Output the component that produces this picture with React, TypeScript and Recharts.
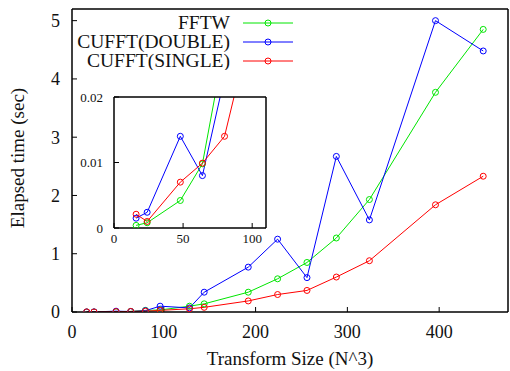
import { Label, Legend, Line, LineChart, XAxis, YAxis } from "recharts"

// transform sizes (N) and elapsed times in seconds
const sizes = [16, 24, 48, 64, 80, 96, 128, 144, 192, 224, 256, 288, 324, 396, 448]
const fftw = [0.0004, 0.0008, 0.0042, 0.0098, 0.028, 0.035, 0.1, 0.14, 0.34, 0.57, 0.85, 1.27, 1.93, 3.77, 4.85]
const cufftDouble = [0.0015, 0.0024, 0.014, 0.008, 0.023, 0.1, 0.07, 0.34, 0.77, 1.25, 0.59, 2.67, 1.58, 5.0, 4.48]
const cufftSingle = [0.0021, 0.001, 0.007, 0.0099, 0.014, 0.028, 0.055, 0.08, 0.19, 0.3, 0.37, 0.6, 0.88, 1.84, 2.33]

const mainXTicks = [0, 100, 200, 300, 400]
const mainYTicks = [0, 1, 2, 3, 4, 5]
const insetXTicks = [0, 50, 100]
const insetYTicks = [0, 0.01, 0.02]

const data = sizes.map((n, i) => ({
  n,
  fftw: fftw[i],
  double: cufftDouble[i],
  single: cufftSingle[i],
}))

const series = [
  { key: "fftw", name: "FFTW", color: "#00e600" },
  { key: "double", name: "CUFFT(DOUBLE)", color: "#0000ff" },
  { key: "single", name: "CUFFT(SINGLE)", color: "#ff0000" },
]

const FONT = "Liberation Serif"
const frame = { stroke: "#000", strokeWidth: 1.5 }
const tickLine = { stroke: "#000", strokeWidth: 1 }
const mainTick = { fill: "#111", fontSize: 18, fontFamily: FONT }
const insetTick = { fill: "#111", fontSize: 13, fontFamily: FONT }

function LegendBox() {
  return (
    <svg width={250} height={60}>
      {series.map((s, i) => {
        const cy = 13 + i * 19
        return (
          <g key={s.key}>
            <text x={170} y={cy + 6} textAnchor="end" fontFamily={FONT} fontSize={19.5} fill="#111">
              {s.name}
            </text>
            <line x1={183} x2={233} y1={cy} y2={cy} stroke={s.color} />
            <circle cx={208} cy={cy} r={3} fill="none" stroke={s.color} />
          </g>
        )
      })}
    </svg>
  )
}

const xTitle = () => (
  <text x={290} y={365} textAnchor="middle" fontFamily={FONT} fontSize={19} fill="#111">
    Transform Size (N^3)
  </text>
)

const yTitle = () => (
  <text x={24} y={158} transform="rotate(-90 24 158)" textAnchor="middle" fontFamily={FONT} fontSize={19} fill="#111">
    Elapsed time (sec)
  </text>
)

function renderLines() {
  return series.map((s) => (
    <Line
      key={s.key}
      xAxisId="b"
      yAxisId="l"
      type="linear"
      dataKey={s.key}
      name={s.name}
      stroke={s.color}
      strokeWidth={1}
      dot={{ r: 3, fill: "none", stroke: s.color, strokeWidth: 1 }}
      isAnimationActive={false}
    />
  ))
}

export default function App() {
  return (
    <div style={{ position: "relative", width: 510, height: 371, background: "#fff", fontFamily: FONT }}>
      <style>{"body{margin:0}"}</style>
      <LineChart width={510} height={371} data={data} margin={{ top: 8, right: 1, bottom: 58, left: 71 }}>
        <XAxis
          xAxisId="b"
          dataKey="n"
          type="number"
          domain={[0, 475]}
          ticks={mainXTicks}
          interval={0}
          allowDataOverflow
          height={1}
          tickSize={-5}
          tickMargin={18}
          axisLine={frame}
          tickLine={tickLine}
          tick={mainTick}
          label={<Label content={xTitle} />}
        />
        <XAxis
          xAxisId="t"
          orientation="top"
          dataKey="n"
          type="number"
          domain={[0, 475]}
          ticks={mainXTicks}
          interval={0}
          allowDataOverflow
          height={1}
          tickSize={-5}
          axisLine={frame}
          tickLine={tickLine}
          tick={false}
        />
        <YAxis
          yAxisId="l"
          type="number"
          domain={[0, 5.2]}
          ticks={mainYTicks}
          interval={0}
          allowDataOverflow
          width={1}
          tickSize={-5}
          tickMargin={17}
          axisLine={frame}
          tickLine={tickLine}
          tick={mainTick}
          label={<Label content={yTitle} />}
        />
        <YAxis
          yAxisId="r"
          orientation="right"
          type="number"
          domain={[0, 5.2]}
          ticks={mainYTicks}
          interval={0}
          allowDataOverflow
          width={1}
          tickSize={-5}
          axisLine={frame}
          tickLine={tickLine}
          tick={false}
        />
        <Legend
          layout="horizontal"
          verticalAlign="middle"
          content={LegendBox}
          wrapperStyle={{ left: 60, top: 10, width: 250, height: 60 }}
        />
        {renderLines()}
      </LineChart>

      <div style={{ position: "absolute", left: 0, top: 0, pointerEvents: "none" }}>
        <LineChart width={510} height={371} data={data} margin={{ top: 96, right: 243, bottom: 142, left: 113 }}>
          <XAxis
            xAxisId="b"
            dataKey="n"
            type="number"
            domain={[0, 110]}
            ticks={insetXTicks}
            interval={0}
            allowDataOverflow
            height={1}
            tickSize={-5}
            tickMargin={11}
            axisLine={frame}
            tickLine={tickLine}
            tick={insetTick}
          />
          <XAxis
            xAxisId="t"
            orientation="top"
            dataKey="n"
            type="number"
            domain={[0, 110]}
            ticks={insetXTicks}
            interval={0}
            allowDataOverflow
            height={1}
            tickSize={-5}
            axisLine={frame}
            tickLine={tickLine}
            tick={false}
          />
          <YAxis
            yAxisId="l"
            type="number"
            domain={[0, 0.02]}
            ticks={insetYTicks}
            interval={0}
            allowDataOverflow
            width={1}
            tickSize={-5}
            tickMargin={16}
            axisLine={frame}
            tickLine={tickLine}
            tick={insetTick}
            tickFormatter={(v: number) => (v === 0 ? "0" : v.toFixed(2))}
          />
          <YAxis
            yAxisId="r"
            orientation="right"
            type="number"
            domain={[0, 0.02]}
            ticks={insetYTicks}
            interval={0}
            allowDataOverflow
            width={1}
            tickSize={-5}
            axisLine={frame}
            tickLine={tickLine}
            tick={false}
          />
          {renderLines()}
        </LineChart>
      </div>
    </div>
  )
}
